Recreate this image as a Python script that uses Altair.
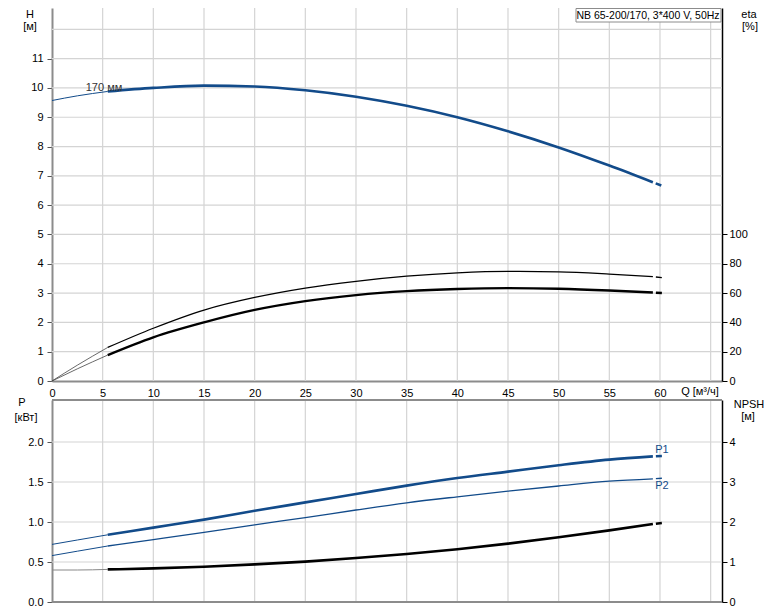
import altair as alt
import pandas as pd

FONT = "Liberation Sans"
BLUE = "#124b8a"
GRID = "#d4d4d4"
AXIS_GRAY = "#8c8c8c"

# ---- data ----
Q = [0, 2.5, 5.5, 10, 15, 20, 25, 30, 35, 40, 45, 50, 55, 59.3, 60.2]
H = [9.57, 9.73, 9.88, 10.0, 10.08, 10.05, 9.92, 9.70, 9.39, 9.00, 8.52, 7.97, 7.35, 6.78, 6.66]
ETA_A = [0, 10.8, 22.9, 36.0, 48.4, 57.0, 63.4, 68.0, 71.5, 73.8, 74.8, 74.5, 73.0, 71.2, 70.5]
ETA_B = [0, 8.3, 17.7, 29.8, 40.0, 48.5, 54.5, 58.6, 61.3, 62.8, 63.4, 63.0, 61.8, 60.4, 60.0]
P1 = [0.72, 0.775, 0.84, 0.93, 1.03, 1.14, 1.245, 1.35, 1.455, 1.55, 1.63, 1.71, 1.78, 1.82, 1.826]
P2 = [0.58, 0.635, 0.70, 0.78, 0.87, 0.965, 1.055, 1.15, 1.24, 1.315, 1.385, 1.45, 1.51, 1.54, 1.547]
NPSH = [0.80, 0.80, 0.815, 0.84, 0.88, 0.94, 1.01, 1.10, 1.20, 1.32, 1.46, 1.62, 1.79, 1.95, 1.975]

Q_TICKS = [0, 5, 10, 15, 20, 25, 30, 35, 40, 45, 50, 55, 60]
Q_GRID = [5, 10, 15, 20, 25, 30, 35, 40, 45, 50, 55, 60, 65]
H_TICKS = [0, 1, 2, 3, 4, 5, 6, 7, 8, 9, 10, 11]
H_GRID = [1, 2, 3, 4, 5, 6, 7, 8, 9, 10, 11, 12]
ETA_TICKS = [0, 20, 40, 60, 80, 100]
P_TICKS = [0.0, 0.5, 1.0, 1.5, 2.0]
P_GRID = [0.5, 1.0, 1.5, 2.0]
NPSH_TICKS = [0, 1, 2, 3, 4]

TITLE = "NB 65-200/170, 3*400 V, 50Hz"

# ---- layout ----
W = 670
HT = 594
TOP_B = 373
BOT_T = 392

X = alt.X(
    "Q:Q",
    scale=alt.Scale(domain=[0, 66.12], nice=False, zero=False),
    axis=alt.Axis(values=Q_TICKS, orient="bottom", offset=-(HT - TOP_B), ticks=False, tickSize=0,
                  labelPadding=6, domainColor=AXIS_GRAY, domainWidth=2, grid=False, title=None,
                  labelFontSize=11, labelColor="#000", labelFont=FONT, labelFlush=False,
                  labelOverlap=False, format="d"),
)

HS = alt.Scale(domain=[0, 12.727], range=[TOP_B, 0], nice=False, zero=False)
ES = alt.Scale(domain=[0, 254.54], range=[TOP_B, 0], nice=False, zero=False)
PS = alt.Scale(domain=[0, 2.525], range=[HT, BOT_T], nice=False, zero=False)
NS = alt.Scale(domain=[0, 5.05], range=[HT, BOT_T], nice=False, zero=False)


def left_axis(values, fmt):
    return alt.Axis(values=values, orient="left", format=fmt, grid=False, title=None,
                    domainColor=AXIS_GRAY, domainWidth=2, tickColor="#555", tickSize=5,
                    labelPadding=4, labelFontSize=11, labelColor="#000", labelFont=FONT,
                    labelFlush=False, labelOverlap=False)


def right_axis(values, fmt):
    return alt.Axis(values=values, orient="right", format=fmt, grid=False, title=None,
                    domainColor="#000", domainWidth=1.5, tickColor="#000", tickSize=5,
                    labelPadding=2, labelFontSize=11, labelColor="#000", labelFont=FONT,
                    labelFlush=False, labelOverlap=False)


def seg(series, i0, i1, scale, color, width, dash=None, axis=None):
    df = pd.DataFrame({"Q": Q[i0:i1 + 1], "v": series[i0:i1 + 1]})
    kw = dict(color=color, strokeWidth=width, interpolate="monotone")
    if dash is not None:
        kw["strokeDash"] = dash
    return alt.Chart(df).mark_line(**kw).encode(
        x=X, y=alt.Y("v:Q", scale=scale, axis=axis))


def curve(series, scale, color, w_thin, w_main, thin_color=None, axis=None):
    return [
        seg(series, 0, 2, scale, thin_color or color, w_thin),
        seg(series, 2, 13, scale, color, w_main, axis=axis),
        seg(series, 13, 14, scale, color, w_main, dash=[0, 3, 6, 60]),
    ]


def text(t, x, y, size=11, color="#000", align="center"):
    return alt.Chart(pd.DataFrame({"t": [t]})).mark_text(
        font=FONT, fontSize=size, color=color, align=align, baseline="middle"
    ).encode(x=alt.value(x), y=alt.value(y), text="t:N")


layers = []

# vertical grid (top & bottom panels)
vg = pd.DataFrame({"Q": Q_GRID})
layers.append(alt.Chart(vg).mark_rule(color=GRID, strokeWidth=1.2).encode(
    x=X, y=alt.value(0), y2=alt.value(TOP_B)))
layers.append(alt.Chart(vg).mark_rule(color=GRID, strokeWidth=1.2).encode(
    x=X, y=alt.value(BOT_T), y2=alt.value(HT)))

# horizontal grid + left axes
layers.append(alt.Chart(pd.DataFrame({"v": H_GRID})).mark_rule(color=GRID, strokeWidth=1.2).encode(
    y=alt.Y("v:Q", scale=HS, axis=left_axis(H_TICKS, "d")), x=alt.value(0), x2=alt.value(W)))
layers.append(alt.Chart(pd.DataFrame({"v": P_GRID})).mark_rule(color=GRID, strokeWidth=1.2).encode(
    y=alt.Y("v:Q", scale=PS, axis=left_axis(P_TICKS, ".1f")), x=alt.value(0), x2=alt.value(W)))

# bottom panel frame lines
frame = pd.DataFrame({"v": [0, 2.525]})
layers.append(alt.Chart(frame).mark_rule(color=AXIS_GRAY, strokeWidth=2).encode(
    y=alt.Y("v:Q", scale=PS, axis=None), x=alt.value(0), x2=alt.value(W)))

# curves
layers += curve(ETA_A, ES, "#000", 0.8, 1.3, thin_color="#444")
layers += curve(ETA_B, ES, "#000", 0.8, 2.4, thin_color="#444", axis=right_axis(ETA_TICKS, "d"))
layers += curve(H, HS, BLUE, 1.0, 2.6)
layers += curve(P2, PS, BLUE, 1.0, 1.3)
layers += curve(P1, PS, BLUE, 1.0, 2.6)
layers += curve(NPSH, NS, "#000", 1.0, 2.6, thin_color="#888", axis=right_axis(NPSH_TICKS, "d"))

# texts
layers += [
    text("H", -22, 7),
    text("[м]", -22, 19),
    text("eta", 697, 7),
    text("[%]", 698, 19),
    text("P", -30, 395),
    text("[кВт]", -26, 410),
    text("NPSH", 697, 397),
    text("[м]", 696, 409),
    text("Q [м³/ч]", 648, 384),
    text("170 мм", 52, 80, color="#333"),
    text("P1", 610, 442, color=BLUE),
    text("P2", 610, 478, color=BLUE),
]

# title box
layers.append(alt.Chart(pd.DataFrame({"t": [TITLE]})).mark_rect(
    fill="white", stroke="#8c8c8c", strokeWidth=1).encode(
    x=alt.value(524), x2=alt.value(669), y=alt.value(0.5), y2=alt.value(14)))
layers.append(text(TITLE, 596, 7.5, size=10.5))

chart = alt.layer(*layers).resolve_scale(y="independent").properties(
    width=W,
    height=HT,
    autosize=alt.AutoSizeParams(type="none"),
    padding={"left": 44, "top": 0, "right": 44, "bottom": 9},
).configure_view(stroke=None)

chart.save("out.html", embed_options={"renderer": "svg", "actions": False})
